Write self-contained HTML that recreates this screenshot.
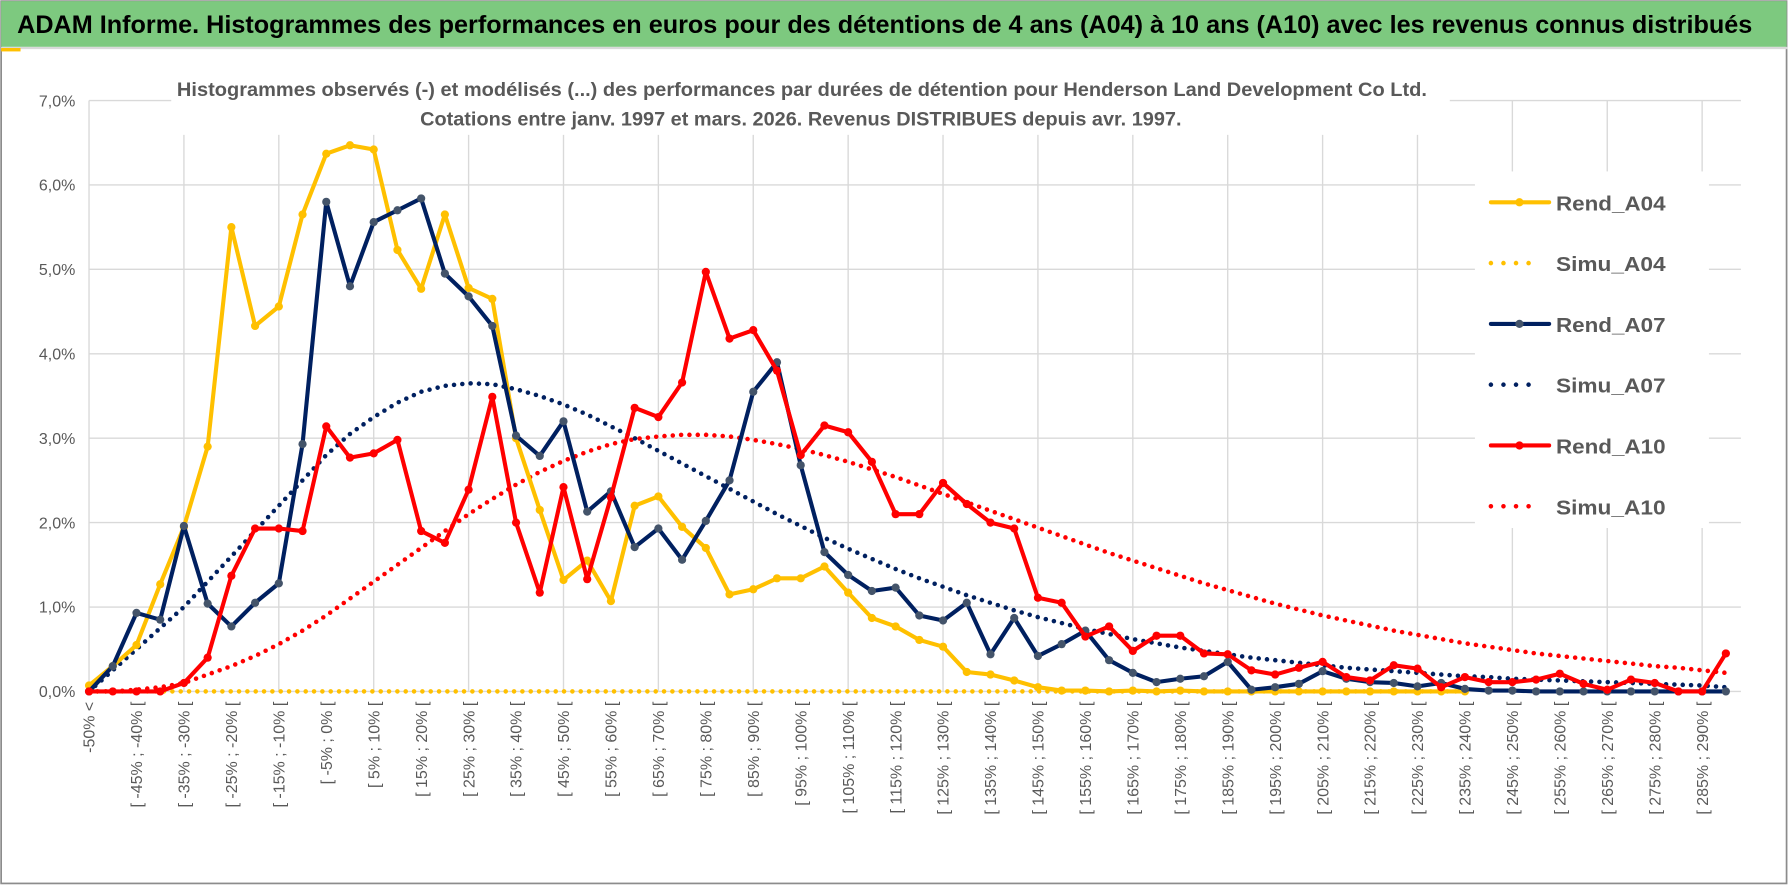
<!DOCTYPE html>
<html><head><meta charset="utf-8"><style>
html,body{margin:0;padding:0;background:#fff;}
svg{display:block;font-family:"Liberation Sans",sans-serif;}
</style></head><body>
<svg id="chart" width="1790" height="888" viewBox="0 0 1568 777" preserveAspectRatio="none" xmlns="http://www.w3.org/2000/svg">
<rect x="0" y="0" width="1568" height="777" fill="#fff"/>
<rect x="1" y="1" width="1564" height="772" fill="none" stroke="#8c8c8c" stroke-width="1.5"/>
<rect x="1" y="1" width="1564" height="40" fill="#7dc97f"/>
<line x1="1" y1="42" x2="1566" y2="42" stroke="#d9d9d9" stroke-width="2"/>
<rect x="1" y="42" width="17" height="3" fill="#ffc000"/>
<text x="15" y="29" font-size="22" font-weight="bold" fill="#000" textLength="1520" lengthAdjust="spacingAndGlyphs">ADAM Informe. Histogrammes des performances en euros pour des détentions de 4 ans (A04) à 10 ans (A10) avec les revenus connus distribués</text>
<g id="grid"></g>
<rect x="150" y="60" width="1120" height="58" fill="#fff"/>
<text x="155" y="84" font-size="17" font-weight="bold" fill="#595959" textLength="1095" lengthAdjust="spacingAndGlyphs">Histogrammes observés (-) et modélisés (...) des performances par durées de détention pour Henderson Land Development Co Ltd.</text>
<text x="368" y="110" font-size="17" font-weight="bold" fill="#595959" textLength="667" lengthAdjust="spacingAndGlyphs">Cotations entre janv. 1997 et mars. 2026. Revenus DISTRIBUES depuis avr. 1997.</text>
<g id="yticks"></g>
<g id="xticks"></g>
<g id="series"></g>
<g id="legend"></g>
</svg>
<script>
const categories = (function(){const a=["-50% <"];for(let i=1;i<70;i++){const l=-50+5*(i-1);a.push("[ "+l+"% ; "+(l+5)+"% [");}return a;})();
const yTicks = [0,1,2,3,4,5,6,7];
const yTickLabels = ["0,0%","1,0%","2,0%","3,0%","4,0%","5,0%","6,0%","7,0%"];
const rendA04 = [0.07,0.3,0.55,1.27,1.95,2.9,5.5,4.33,4.56,5.65,6.37,6.47,6.42,5.23,4.77,5.65,4.78,4.65,3.0,2.15,1.32,1.55,1.07,2.2,2.31,1.95,1.7,1.15,1.21,1.34,1.34,1.48,1.17,0.87,0.77,0.61,0.53,0.23,0.2,0.13,0.05,0.01,0.01,0,0.01,0,0.01,0,0,0,0,0,0,0,0,0,0,0,0,null,null,null,null,null,null,null,null,null,null,null];
const simuA04 = [0,0,0,0,0,0,0,0,0,0,0,0,0,0,0,0,0,0,0,0,0,0,0,0,0,0,0,0,0,0,0,0,0,0,0,0,0,0,0,0,0,0,0,0,0,0,0,0,0,0,0,0,0,0,0,0,0,0,0,null,null,null,null,null,null,null,null,null,null,null];
const rendA07 = [0,0.3,0.93,0.85,1.96,1.04,0.77,1.05,1.28,2.93,5.8,4.8,5.56,5.7,5.84,4.95,4.68,4.33,3.03,2.79,3.2,2.13,2.37,1.71,1.93,1.56,2.02,2.5,3.55,3.9,2.68,1.65,1.38,1.19,1.23,0.9,0.84,1.05,0.44,0.87,0.42,0.56,0.72,0.37,0.22,0.11,0.15,0.18,0.35,0.02,0.05,0.09,0.24,0.15,0.11,0.1,0.06,0.1,0.03,0.01,0.01,0,0,0,0,0,0,0,0,0];
const simuA07 = [0,0.25,0.5,0.75,1.0,1.3,1.6,1.9,2.2,2.5,2.8,3.05,3.25,3.42,3.55,3.62,3.65,3.64,3.58,3.5,3.4,3.28,3.14,3.0,2.85,2.7,2.55,2.4,2.25,2.1,1.96,1.82,1.69,1.57,1.45,1.34,1.24,1.14,1.05,0.96,0.88,0.81,0.74,0.68,0.62,0.57,0.52,0.48,0.44,0.4,0.37,0.34,0.31,0.28,0.26,0.24,0.22,0.2,0.18,0.17,0.15,0.14,0.13,0.12,0.11,0.1,0.09,0.08,0.07,0.05];
const rendA10 = [0,0,0,0,0.1,0.4,1.37,1.93,1.93,1.9,3.14,2.77,2.82,2.98,1.9,1.76,2.39,3.49,2.0,1.17,2.42,1.33,2.3,3.36,3.25,3.66,4.97,4.18,4.28,3.8,2.8,3.15,3.07,2.72,2.1,2.1,2.47,2.22,2.0,1.93,1.11,1.05,0.65,0.77,0.48,0.66,0.66,0.45,0.44,0.25,0.2,0.28,0.35,0.17,0.13,0.31,0.27,0.05,0.17,0.11,0.11,0.14,0.21,0.09,0.02,0.14,0.1,0,0,0.45];
const simuA10 = [0,0,0.02,0.05,0.1,0.2,0.3,0.42,0.56,0.72,0.9,1.1,1.3,1.5,1.7,1.9,2.1,2.28,2.45,2.6,2.73,2.84,2.93,2.99,3.02,3.04,3.04,3.02,2.98,2.93,2.87,2.8,2.72,2.63,2.54,2.44,2.34,2.24,2.14,2.04,1.94,1.84,1.74,1.64,1.55,1.46,1.37,1.28,1.2,1.12,1.04,0.97,0.9,0.84,0.78,0.72,0.67,0.62,0.57,0.53,0.49,0.45,0.42,0.39,0.36,0.33,0.3,0.28,0.25,0.22];
const legendLabels = ["Rend_A04","Simu_A04","Rend_A07","Simu_A07","Rend_A10","Simu_A10"];

const NS="http://www.w3.org/2000/svg";
const X0=78, DX=20.78, Y0=605, DY=73.86, XR=1525;
function xPos(i){return X0+i*DX;}
function yPos(v){return Y0-v*DY;}
function mk(tag,attrs,parent){const e=document.createElementNS(NS,tag);for(const k in attrs)e.setAttribute(k,attrs[k]);parent.appendChild(e);return e;}

const grid=document.getElementById('grid');
yTicks.forEach(function(t){
  const l=mk('line',{x1:X0,y1:yPos(t),x2:XR,y2:yPos(t),stroke:'#d9d9d9','stroke-width':1.2},grid);
  
  
});
for(let i=4;i<categories.length;i+=4){
  const l=mk('line',{x1:xPos(i),y1:yPos(7),x2:xPos(i),y2:Y0,stroke:'#d9d9d9','stroke-width':1.2},grid);
  
  
}
mk('line',{x1:X0,y1:yPos(7),x2:X0,y2:Y0,stroke:'#d9d9d9','stroke-width':1.2},grid);

const yt=document.getElementById('yticks');
yTicks.forEach(function(t,k){
  const tx=mk('text',{x:66,y:yPos(t)+5,'font-size':14,fill:'#595959','text-anchor':'end'},yt);
  tx.textContent=yTickLabels[k];
  
  
});

const xt=document.getElementById('xticks');
categories.forEach(function(c,i){
  if(i%2!==0)return;
  const x=xPos(i)+5, y=614;
  const tx=mk('text',{x:x,y:y,'font-size':14,fill:'#595959','text-anchor':'end',transform:'rotate(-90 '+x+' '+y+')'},xt);
  tx.textContent=c;
  
  
});

const sg=document.getElementById('series');
function pathFor(arr){let d='',pen=false;arr.forEach(function(v,i){if(v===null){pen=false;return;}d+=(pen?'L':'M')+xPos(i).toFixed(2)+' '+yPos(v).toFixed(2)+' ';pen=true;});return d;}
function dotted(arr,color,name){
  const p=mk('path',{d:pathFor(arr),fill:'none',stroke:color,'stroke-width':4,'stroke-linecap':'round','stroke-dasharray':'0 7.3'},sg);
  
  
}
function solid(arr,color,mcolor,name){
  const g=mk('g',{},sg);
  
  
  const p=mk('path',{d:pathFor(arr),fill:'none',stroke:color,'stroke-width':3.6,'stroke-linejoin':'round'},g);
  
  
  arr.forEach(function(v,i){if(v===null)return;
    const c=mk('circle',{cx:xPos(i),cy:yPos(v),r:3.6,fill:mcolor},g);
    
    
  });
}
dotted(simuA04,'#ffc000','simu-a04-series');
dotted(simuA10,'#ff0000','simu-a10-series');
dotted(simuA07,'#002060','simu-a07-series');
solid(rendA04,'#ffc000','#ffc000','rend-a04-series');
solid(rendA07,'#002060','#44546a','rend-a07-series');
solid(rendA10,'#ff0000','#ff0000','rend-a10-series');

const lg=document.getElementById('legend');
mk('rect',{x:1292,y:150,width:205,height:312,fill:'#fff'},lg);
const legColors=['#ffc000','#ffc000','#002060','#002060','#ff0000','#ff0000'];
const legMarker=['#ffc000',null,'#44546a',null,'#ff0000',null];
legendLabels.forEach(function(lab,k){
  const y=177+k*53.2;
  const g=mk('g',{},lg);
  
  
  if(legMarker[k]){
    mk('line',{x1:1306,y1:y,x2:1357,y2:y,stroke:legColors[k],'stroke-width':3.6,'stroke-linecap':'round'},g);
    mk('circle',{cx:1331,cy:y,r:3.6,fill:legMarker[k]},g);
  } else {
    mk('line',{x1:1306,y1:y,x2:1350,y2:y,stroke:legColors[k],'stroke-width':4,'stroke-linecap':'round','stroke-dasharray':'0 11'},g);
  }
  const t=mk('text',{x:1363,y:y+7,'font-size':18,'font-weight':'bold',fill:'#595959',textLength:96,lengthAdjust:'spacingAndGlyphs'},g);
  t.textContent=lab;
  
  
});
</script>
</body></html>
